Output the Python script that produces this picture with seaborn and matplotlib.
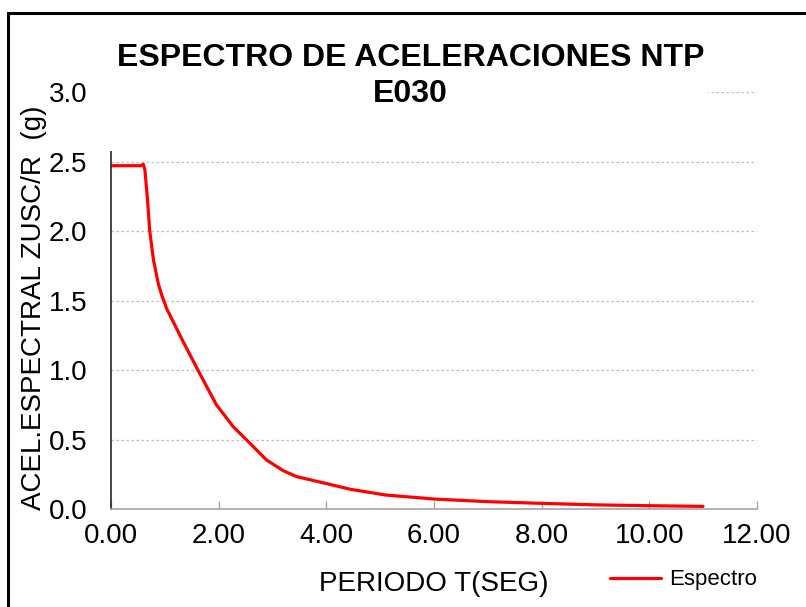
import matplotlib.pyplot as plt
import matplotlib.patches as mpatches
import seaborn as sns
import pandas as pd

# Espectro de aceleraciones
periodo = [0.00, 0.10, 0.20, 0.30, 0.40, 0.50, 0.55, 0.60, 0.63, 0.68, 0.72, 0.79, 0.88,
           0.95, 1.00, 1.03, 1.34, 1.62, 1.96, 2.27, 2.52, 2.89, 3.20, 3.45, 3.85,
           4.45, 5.10, 6.00, 7.00, 8.00, 9.00, 10.00, 11.00]
acel = [2.47, 2.47, 2.47, 2.47, 2.47, 2.47, 2.47, 2.48, 2.44, 2.22, 2.00, 1.79, 1.62,
        1.53, 1.48, 1.445, 1.205, 0.996, 0.749, 0.593, 0.497, 0.353, 0.276, 0.233, 0.197,
        0.142, 0.101, 0.072, 0.053, 0.041, 0.030, 0.024, 0.019]

x_ticks = [0, 2, 4, 6, 8, 10, 12]
y_ticks = [0.0, 0.5, 1.0, 1.5, 2.0, 2.5, 3.0]

df = pd.DataFrame({'T': periodo, 'Sa': acel})

sns.set_theme(style="white")
plt.rcParams['font.family'] = ['Liberation Sans', 'DejaVu Sans']
plt.rcParams['text.color'] = 'black'
plt.rcParams['axes.labelcolor'] = 'black'
plt.rcParams['xtick.color'] = 'black'
plt.rcParams['ytick.color'] = 'black'

fig = plt.figure(figsize=(8.06, 6.07), dpi=100)
ax = fig.add_axes([0.1377, 0.1614, 0.939 - 0.1377, 0.8484 - 0.1614])

sns.lineplot(data=df, x='T', y='Sa', color='#ff0000', linewidth=2.3, label='Espectro', ax=ax)

ax.set_xlim(0, 12)
ax.set_ylim(0, 3.0)
ax.set_xticks(x_ticks)
ax.set_xticklabels([f"{v:.2f}" for v in x_ticks])
ax.set_yticks(y_ticks)
ax.set_yticklabels([f"{v:.1f}" for v in y_ticks])

# grid punteado solo en y
ax.yaxis.grid(True, linestyle=(0, (2, 2)), color='#bfbfbf', linewidth=0.9)
ax.xaxis.grid(False)

for side in ['top', 'right']:
    ax.spines[side].set_visible(False)
ax.spines['left'].set_color('#262626')
ax.spines['left'].set_linewidth(1.2)
ax.spines['bottom'].set_color('#a6a6a6')
ax.spines['bottom'].set_linewidth(1.2)

ax.tick_params(axis='x', direction='in', length=6, width=1, color='#a6a6a6',
               labelsize=20, pad=10, bottom=True, labelcolor='black')
ax.tick_params(axis='y', length=0, labelsize=20, pad=17, labelcolor='black')

ax.set_xlabel('PERIODO T(SEG)', fontsize=20, labelpad=16)
ax.set_ylabel('ACEL.ESPECTRAL ZUSC/R  (g)', fontsize=20)
ax.yaxis.set_label_coords(-0.099, 0.483)

leg = ax.legend(loc='center left', bbox_to_anchor=(590 / 806, 1 - 580 / 607),
                bbox_transform=fig.transFigure, frameon=False, fontsize=16,
                handlelength=2.3, handletextpad=0.35)

# zona blanca del titulo (tapa la linea de 3.0 y el tope del eje)
fig.patches.append(mpatches.Rectangle((106 / 806, 1 - 151 / 607), (708 - 106) / 806,
                                      (151 - 30) / 607, transform=fig.transFigure,
                                      facecolor='white', edgecolor='none', zorder=1))

fig.text(0.509, 1 - 76 / 607, 'ESPECTRO DE ACELERACIONES NTP\nE030', ha='center', va='center',
         fontsize=23, fontweight='bold', linespacing=1.3, zorder=3)

# borde del area del grafico
fig.patches.append(mpatches.Rectangle((8 / 806, -0.05), 1.0, 1 - 13 / 607 + 0.05,
                                      transform=fig.transFigure, fill=False,
                                      edgecolor='black', linewidth=2.2, zorder=2))

fig.savefig('out.png', dpi=100)
